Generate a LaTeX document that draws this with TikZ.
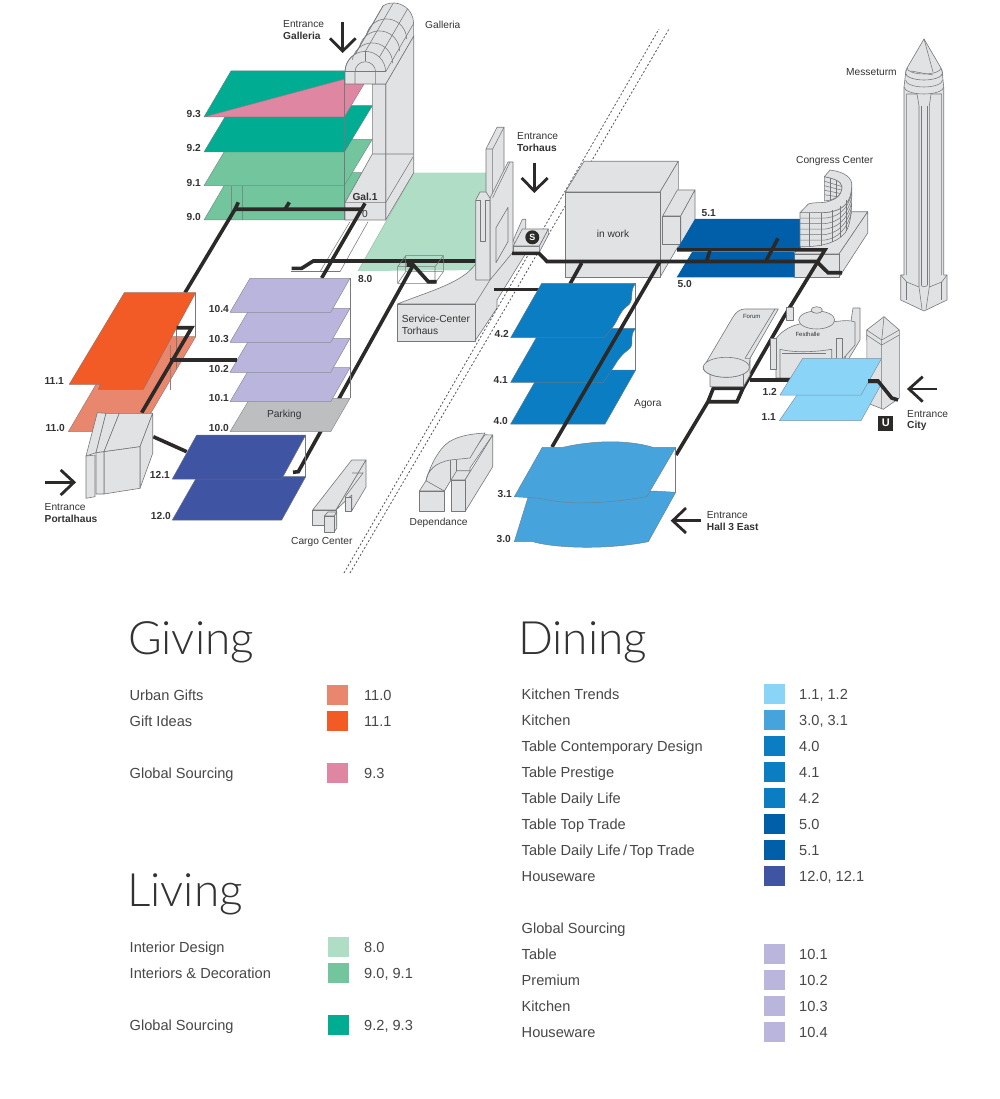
\documentclass[tikz,border=0pt]{standalone}
\usepackage{fontspec}
\setmainfont{Liberation Sans}
\newfontfamily\hdrfont{Lato Light}
\definecolor{gb}{HTML}{E1E2E4}
\definecolor{ln}{HTML}{77787B}
\definecolor{tx}{HTML}{333333}
\definecolor{blk}{HTML}{2B2A29}
\definecolor{ugift}{HTML}{E8866E}
\definecolor{gift}{HTML}{F25A26}
\definecolor{pnk}{HTML}{DE86A2}
\definecolor{lgreen}{HTML}{B0DDC6}
\definecolor{mgreen}{HTML}{72C59C}
\definecolor{dgreen}{HTML}{00AD93}
\definecolor{sky}{HTML}{8AD4F7}
\definecolor{kitch}{HTML}{46A3DC}
\definecolor{agora}{HTML}{0B7EC3}
\definecolor{navy}{HTML}{005FA8}
\definecolor{indg}{HTML}{3F54A3}
\definecolor{lav}{HTML}{BAB5DC}
\definecolor{park}{HTML}{BCBEC0}
\tikzset{
 face/.style={fill=gb,draw=ln,line width=.6pt,line join=round},
 wire/.style={draw=ln,line width=.55pt},
 floorp/.style={fill=#1,draw=ln!70!#1,line width=.5pt,line join=round},
 route/.style={draw=blk,line width=3.6pt,line join=miter},
 arrowline/.style={draw=blk,line width=2.8pt},
 rail/.style={draw=ln!70!black,line width=.8pt,dash pattern=on 2pt off 2pt},
 lab/.style={font=\fontsize{10.2}{12}\selectfont,text=tx,inner sep=0pt,anchor=west},
 blab/.style={lab,font=\fontsize{10.2}{12}\selectfont\bfseries},
 num/.style={font=\fontsize{10.2}{12}\selectfont\bfseries,text=tx,inner sep=0pt,anchor=east},
 tiny/.style={font=\fontsize{6}{7}\selectfont,text=tx,inner sep=0pt},
 hdr/.style={font=\fontsize{46}{50}\selectfont\hdrfont,text=tx,inner sep=0pt,anchor=base west},
 leg/.style={font=\fontsize{14.6}{17}\selectfont,text=tx!90!white,inner sep=0pt,anchor=base west},
 swatch/.style={fill=#1,draw=none,minimum width=21pt,minimum height=20pt,inner sep=0pt,anchor=west}
}
\begin{document}
\begin{tikzpicture}[x=1pt,y=-1pt]
\useasboundingbox (0,0) rectangle (1000,1099);
\fill[white] (0,0) rectangle (1000,1099);
% floor 8.0
\fill[lgreen] (358,271) -- (413.7,172.7) -- (490,172.7) -- (490,270) -- cycle;
\draw[wire,draw=lgreen!70!ln] (358,271) -- (413.7,172.7);
% thin outlines beside floor 8.0
\draw[wire] (320,271.7) -- (350,221.7) (340,271.7) -- (368,221.7) (326,271.7) -- (355,221.7);
\draw[wire] (291,271.7) -- (340,271.7);
% floors 9
\filldraw[floorp=mgreen] (204,220) -- (231.7,172.7) -- (362,172.7) -- (344.3,220) -- cycle;
\draw[wire,draw=ln!70!mgreen] (231.7,186) -- (231.7,220) (242.7,186) -- (242.7,220);
\filldraw[floorp=mgreen] (204,185.7) -- (231.7,139.3) -- (372.3,139.3) -- (344.3,185.7) -- cycle;
\filldraw[floorp=dgreen] (204,152) -- (231.7,105.7) -- (372.3,105.7) -- (344.3,152) -- cycle;
\filldraw[floorp=dgreen] (204,117) -- (231,71) -- (350,71) -- (350,79) -- cycle;
\filldraw[floorp=pnk] (204,117) -- (345,79) -- (364,84) -- (344.3,117) -- cycle;
% Galleria pillar
\draw[face] (385.7,84) -- (413.7,36) -- (413.7,172.7) -- (385.7,220) -- cycle;
\draw[face] (372.3,84) -- (385.7,84) -- (385.7,220) -- (345,220) -- (345,202.7) -- (372.3,154) -- cycle;
\draw[wire] (345,202.7) -- (385.7,202.7) -- (413,157) (372.3,154) -- (413.7,154);
\draw[wire] (344.7,79) -- (344.7,220);
% barrel vault
\draw[face] (345,71.7) arc[start angle=180,end angle=240,radius=20.3] -- (383.15,5.7)
  arc[start angle=240,end angle=360,radius=20.3] -- (413.7,36) -- (385.7,84) -- (345,84) -- cycle;
\foreach \i in {1,2,3}{
  \draw[wire,shift={(\i*7,-\i*12)}] (345.3,71.7) arc[start angle=190,end angle=360,radius=20.3];
}
\draw[wire] (345,71.7) arc[start angle=180,end angle=360,radius=20.3];
\draw[wire] (385.7,71.7) -- (413.7,23.3);
\draw[wire] (365.3,51.4) -- (393.3,3) (356,53) -- (383.15,5.7) (379.5,57) -- (407.5,9);
\draw[wire] (345,71.7) -- (385.7,71.7);
\draw[wire] (355,84) -- (355,72) arc[start angle=180,end angle=360,radius=10.3] -- (375.6,84);
\draw[wire] (365.3,51.4) -- (365.3,61.4);
% routes of the 9 block
\draw[route] (238.3,202.3) -- (235,209.3) -- (361,209.3);
\draw[route] (289.3,202.3) -- (285,209.3);
\draw[route] (235,209.3) -- (185,292.7);
\draw[route] (365,203.3) -- (321.7,278);
\draw[route] (291.7,268.3) -- (301.7,268.3) -- (313.3,261) -- (476,261);
\node[blab] (gal1) at (352.3,196.7) {Gal.1};
\node[lab] (gal0) at (362,214) {0};
% service centre
\draw[face] (397.3,304) .. controls (430,291) and (462,283) .. (475.7,264) -- (513,250) -- (526,253) -- (497,300) -- (497,308) -- (475,341) -- (475,304) -- cycle;
\draw[face] (397.3,304) rectangle (475,341);
\draw[wire] (475,304) -- (490,280);
% Torhaus
\draw[face] (486,149) -- (497,127.3) -- (504,127.3) -- (504,190) -- (492.7,210) -- (486,210) -- cycle;
\draw[wire] (486,149) -- (492.7,149) -- (504,127.3) (492.7,149) -- (492.7,195);
\draw[face] (490,280) -- (490,198) -- (508,162) -- (513,162) -- (513,252) -- cycle;
\draw[wire] (492.5,198) -- (510,162);
\draw[face] (475.7,200) -- (480,192) -- (486,192) -- (490,198) -- (490,280) -- (475.7,280) -- cycle;
\draw[wire] (475.7,200) -- (481,200) (485,200) -- (490,200);
\draw[face] (480.7,200) -- (480.7,241) -- (485.7,241) -- (485.7,200);
\draw[face] (496,227.7) -- (508,207.3) -- (508,241.7) -- (496,262.7) -- cycle;
% rails
\draw[rail] (344,573) -- (659,29);
\draw[rail] (350,573) -- (669,29);
% service box wireframe + route
\draw[wire] (397.7,266.7) -- (405.7,255.7) -- (443.3,255.7) -- (443.3,271.7) -- (435,283.3) -- (397.7,283.3) -- cycle;
\draw[wire] (397.7,266.7) -- (435,266.7) -- (443.3,255.7) (435,266.7) -- (435,283.3) (405.7,255.7) -- (405.7,271.7) -- (443.3,271.7) (397.7,283.3) -- (405.7,271.7);
\draw[route] (406.7,265) -- (413.3,265) -- (428.3,281.7) -- (436.7,281.7);
\draw[route] (413.3,265) -- (298.3,471.7) -- (293,472.3);
% S station
\draw[face] (513.3,240) -- (522.3,219.3) -- (525.7,219.3) -- (525.7,229) -- (515,245) -- cycle;
\draw[face] (513.3,246) -- (539.3,246) -- (539.3,252.3) -- (513.3,252.3) -- cycle;
\draw[face] (539.3,246) -- (548.3,229) -- (548.3,235) -- (539.3,252.3) -- cycle;
\draw[face] (513.3,246) -- (522.3,229) -- (548.3,229) -- (539.3,246) -- cycle;
\node[circle,fill=blk,minimum size=14pt,inner sep=0pt,text=white,font=\fontsize{9}{9}\selectfont\bfseries] (sbahn) at (532.3,237.3) {S};
% in work block
\draw[face] (565.3,192) -- (584,161.3) -- (678.3,161.3) -- (660,192) -- cycle;
\draw[face] (660,192) -- (678.3,161.3) -- (678.3,246) -- (660,277.3) -- cycle;
\draw[face] (565.3,192) rectangle (660,277.3);
\draw[face] (662.7,216) -- (677.3,190) -- (695,190) -- (680.7,216) -- cycle;
\draw[face] (680.7,216) -- (695,190) -- (695,220) -- (680.7,244) -- cycle;
\draw[face] (662.7,216) rectangle (680.7,244);
\node[font=\fontsize{10.2}{12}\selectfont,text=tx,inner sep=0pt] (inwork) at (613,233.5) {in work};
% Congress base and 5 floors
\draw[face] (794.3,254) -- (815,212) -- (867.7,211.7) -- (839,254) -- cycle;
\draw[face] (839,254) -- (867.7,211.7) -- (867.7,233) -- (839,277.3) -- cycle;
\draw[face] (794.3,254) rectangle (839,277.3);
\fill[navy] (695,219) -- (800.5,219) -- (800.5,250) -- (676.7,250) -- cycle;
\fill[navy] (692,252) -- (794.3,252) -- (794.3,277.3) -- (676.7,277.3) -- cycle;
% Congress crescent
\draw[face] (800,212.7) -- (800,246.7) .. controls (815,247) and (835,245) .. (845,233) .. controls (850,225) and (852,218) .. (851.7,186.7) .. controls (851,200) and (846,212) .. (821.7,212.7) -- cycle;
\draw[face] (824.3,176.7) -- (824.3,201) .. controls (835,200) and (842,196) .. (842,186.7) .. controls (842,181) and (832,178) .. (824.3,176.7);
\foreach \d in {4.5,9,13.5,18}{ \draw[wire] (824.3,176.7+\d) -- (842,183+\d*.8); }
\draw[wire] (830,178) -- (830,201) (836,181) -- (836,199);
\draw[face] (800,212.7) -- (808.3,204) .. controls (815,202) and (820,203) .. (825,202.3) .. controls (835,200) and (842,196) .. (842,186.7) .. controls (842,181) and (832,178) .. (824.3,176.7) -- (830,170) .. controls (845,172) and (853,178) .. (851.7,186.7) .. controls (851,200) and (846,212) .. (821.7,212.7) -- cycle;
\foreach \d in {5.5,11,16.5,22,27.5}{
  \draw[wire] (800,212.7+\d) -- (821.7,212.7+\d) .. controls (838,212.7+\d) and (848,205+\d*.8) .. (851.5,189+\d*.85);
}
\draw[wire] (809,212.7) -- (809,246.7) (821.7,212.7) -- (821.7,246) (832,210) -- (832,241.5) (840,206) -- (840,237) (846,200) -- (846,231);
% routes centre
\draw[route] (512,253.3) -- (539,253.3) -- (547,261.5) -- (816.7,261.5) -- (828,272.7) -- (842,272.7);
\draw[route] (677,249.8) -- (825,249.8) -- (783.3,318) -- (743,388.3) -- (713.3,388.3) -- (708,401.7) -- (737,401.7) -- (743,388.3);
\draw[route] (708,401.7) -- (676,455);
\draw[route] (710,250) -- (706.7,261);
\draw[route] (778,238.3) -- (766,261);
\draw[route] (581.7,263) -- (570,284);
\draw[route] (494,289.5) -- (540,289.5);
% Messeturm
\draw[face] (904,87) -- (904,275) -- (900.7,275) -- (900.7,300) -- (924,311) -- (947,300) -- (947,275) -- (943.7,275) -- (943.7,87) -- (942,70) -- (906,70) -- cycle;
\fill[gb,draw=ln,line width=.6pt] (905.5,73) arc[start angle=180,end angle=0,x radius=18.5,y radius=7] -- (941,68) -- (924,39) -- (907,68) -- cycle;
\draw[wire] (907,68) arc[start angle=180,end angle=0,x radius=17,y radius=6];
\draw[wire] (924,39) -- (933,72) (911,71) -- (933,75);
\draw[wire] (905.5,80) arc[start angle=180,end angle=0,x radius=18.5,y radius=7];
\draw[wire] (906.7,275) -- (906.7,94) -- (917,94) -- (919,106) -- (919,287);
\draw[wire] (941.7,275) -- (941.7,94) -- (931,94) -- (929.3,106) -- (929.3,287);
\draw[wire] (921,106) -- (921,285) (927.5,106) -- (927.5,285);
\draw[wire] (921,285) arc[start angle=180,end angle=0,x radius=3.2,y radius=1.6];
\draw[wire] (900.7,275) -- (906.7,282) -- (919,287) -- (922,309) (947,275) -- (941.7,282) -- (929.3,287) -- (926,309);
\draw[wire] (906.7,282) -- (906.7,300) (941.7,282) -- (941.7,300);
\draw[wire] (904,87) arc[start angle=180,end angle=0,x radius=19.85,y radius=7];
% Forum and Festhalle
\draw[face] (853,308) -- (860,308) -- (860,340) -- (848,360) -- (845,360) -- cycle;
\draw[face] (786.7,307) rectangle (793.3,320);
\draw[face] (775,340) .. controls (785,326) and (800,322) .. (815,323) .. controls (830,324) and (845,318) .. (855,322) -- (855,345) -- (842,360) -- (842,378) -- (776,378) -- (776,345) -- cycle;
\draw[face] (780,349.3) .. controls (795,353) and (815,352) .. (831.7,349.3) -- (831.7,378) -- (780,378) -- cycle;
\draw[wire] (782,353) -- (826,353);
\draw[face] (798.7,320) arc[start angle=180,end angle=360,x radius=18,y radius=9] arc[start angle=0,end angle=180,x radius=18,y radius=9];
\draw[face] (811,310) arc[start angle=180,end angle=360,x radius=5.7,y radius=3.3] arc[start angle=0,end angle=180,x radius=5.7,y radius=3.3];
\draw[face] (770.7,338.3) rectangle (776.7,369.3);
\draw[face] (836,338) rectangle (842.7,360);
\node[tiny] (festhalle) at (807.7,334.5) {Festhalle};
\draw[face] (710,367) -- (710,386.7) -- (743.3,386.7) -- (750,375) -- (750,358) -- cycle;
\draw[wire] (743.3,386.7) -- (743.3,370);
\draw[face] (703.3,367.3) -- (733,317) .. controls (736,312) and (740,309) .. (745,309) -- (775,309) -- (750,358.3) -- (749,367.3) arc[start angle=0,end angle=180,x radius=23,y radius=10];
\draw[face] (703.3,367.3) arc[start angle=180,end angle=360,x radius=23,y radius=10] arc[start angle=0,end angle=180,x radius=23,y radius=10];
\draw[face] (775,309) -- (778.3,309) -- (750,358.3) -- (745,358.3) -- cycle;
\node[tiny] (forum) at (751.7,316.7) {Forum};
% City tower
\draw[face] (866.7,330) -- (884,316.7) -- (899.3,330) -- (899.3,398) -- (883.3,409.3) -- (867.3,403) -- cycle;
\draw[wire] (866.7,330) -- (881.7,340) -- (899.3,330) (866.7,335) -- (881.7,345) -- (899.3,335);
\draw[wire] (884,316.7) -- (881.7,340) -- (881.7,409);
% routes city
\draw[route] (750,380) -- (790,380);
% floors 1
\filldraw[floorp=sky] (779.3,420.7) -- (805,383.3) -- (881.7,383.3) -- (861,420.7) -- cycle;
\filldraw[floorp=sky] (780,395) -- (802.7,358.3) -- (881.7,358.3) -- (861,395) -- cycle;
\draw[route] (868,381) -- (878,381) -- (891.7,398) -- (898,400);
% U
\node[fill=blk,text=white,minimum size=15pt,inner sep=0pt,font=\fontsize{11}{11}\selectfont\bfseries] (ubahn) at (885.8,423) {U};
% floors 4
\draw[wire] (635.7,283.3) -- (635.7,370);
\filldraw[floorp=agora] (510.7,424) -- (541.7,370) -- (635.7,370) -- (605,424) -- cycle;
\filldraw[floorp=agora] (510.7,382.3) -- (541.7,328.3) -- (635.7,328.3) .. controls (628,336) and (636,345) .. (628,350) .. controls (620,356) and (618,360) .. (611.7,370) -- (603.3,382.3) -- cycle;
\filldraw[floorp=agora] (510.7,337.7) -- (541.7,283.3) -- (635.7,283.3) .. controls (628,292) and (636,301) .. (626,307) .. controls (619,313) and (618,320) .. (613,326.7) -- (604,337.7) -- cycle;
\draw[route] (660,261.5) -- (552,447);
% floors 3
\filldraw[floorp=kitch] (514.3,541.7) -- (533,541.7) .. controls (550,547) and (600,551) .. (648.3,541.7) -- (675.7,492.3) -- (653,491) -- (530,491) -- cycle;
\draw[wire] (675.7,447.3) -- (675.7,492.3);
\filldraw[floorp=kitch] (514.3,496.7) -- (542.3,447.3) -- (563,447.3) .. controls (590,441) and (625,439) .. (653,447.3) -- (675.7,447.3) -- (646.7,496.7) .. controls (610,503) and (570,506) .. (540,498.3) -- cycle;
% floors 10
\draw[wire] (350,278.3) -- (350,398.3);
\filldraw[floorp=park] (230,431.7) -- (250,398.3) -- (350,398.3) -- (330.7,431.7) -- cycle;
\foreach \b in {401.7,372.3,342.3,312.3}{
  \filldraw[floorp=lav] (230,\b) -- (250,\b-34) -- (350,\b-34) -- (330.7,\b) -- cycle;
}
\node[font=\fontsize{10.2}{12}\selectfont,text=tx,inner sep=0pt] (parking) at (284.3,415) {Parking};
% floors 11
\draw[wire] (195.7,292.7) -- (195.7,336.7);
\filldraw[floorp=ugift] (68.3,431.7) -- (124,336.7) -- (195.7,336.7) -- (140,431.7) -- cycle;
\draw[wire,draw=ln!70!ugift] (170,345) -- (170,390) (176.7,345) -- (176.7,370);
\filldraw[floorp=gift] (69.3,384.3) -- (124.3,292.7) -- (195.7,292.7) -- (143.3,389.3) -- (98.3,389.3) -- (100.7,384.3) -- cycle;
\draw[wire] (176.7,327) -- (176.7,367);
\draw[route] (176.7,327.7) -- (191.7,327.7) -- (141.7,412.7);
\draw[route] (170,360) -- (237.3,360);
\draw[route] (153.3,436.7) -- (186.7,451.7);
% Portalhaus
\draw[face] (86,456) -- (97.3,412.7) -- (106,413.3) -- (96,452.7) -- cycle;
\draw[face] (96,452.7) -- (106,413.3) -- (119.3,413.3) -- (104,451.7) -- cycle;
\draw[face] (104,451.7) -- (119.3,413.3) -- (152.7,413.3) -- (140,446.7) -- cycle;
\draw[face] (140,446.7) -- (152.7,413.3) -- (152.7,453.3) -- (140,488.3) -- cycle;
\draw[face] (104,451.7) -- (140,446.7) -- (140,488.3) -- (104,494) -- cycle;
\draw[face] (96,452.7) -- (104,451.7) -- (104,494) -- (96,494) -- cycle;
\draw[face] (86,456) -- (95,455) -- (95,496.7) -- (86,498.3) -- cycle;
% floors 12
\draw[wire] (305.7,435) -- (305.7,476.7);
\filldraw[floorp=indg] (172.3,520) -- (197,476.7) -- (305.7,476.7) -- (281.7,520) -- cycle;
\filldraw[floorp=indg] (172.3,479) -- (196.7,435) -- (305.7,435) -- (281.7,479) -- cycle;
% Cargo Center
\draw[face] (312.7,510) -- (351.7,460) -- (366,460) -- (336,510) -- cycle;
\draw[face] (336,510) -- (366,460) -- (366,487) -- (351.7,511) -- (351.7,495) -- cycle;
\draw[face] (312.7,510) rectangle (336,525);
\draw[face] (345,497) rectangle (351.7,511.7);
\draw[face] (324.3,516) -- (328,512) -- (336.7,512) -- (334.3,516) -- cycle;
\draw[face] (334.3,516) -- (336.7,512) -- (336.7,528) -- (334.3,532) -- cycle;
\draw[face] (324.3,516) rectangle (334.3,532);
\draw[wire] (352,473) -- (363,473) -- (345,497);
% Dependance
\draw[face] (419.3,491) -- (426,480.7) -- (450,480.7) -- (444.3,491) -- cycle;
\draw[face] (419.3,491) rectangle (444.3,511.7);
\draw[face] (426,480.7) .. controls (428,470) and (432,468) .. (440,462) .. controls (445,458) and (450,456) .. (470,455.7) -- (485,434.7) -- (492.7,435) -- (470,468) -- (470,480) -- (451,480) -- (444.3,491) -- cycle;
\draw[face] (426,480.7) .. controls (428,470) and (435,463) .. (450,460) -- (470,458) -- (485,433) .. controls (470,434) and (455,436) .. (445,445) .. controls (435,455) and (429,470) .. (426,480.7) -- cycle;
\draw[face] (451,480) -- (456.7,470.7) -- (470.7,470.7) -- (465,480) -- cycle;
\draw[face] (465,480) -- (492.7,435) -- (492.7,466.7) -- (465,511.7) -- cycle;
\draw[face] (451,480) rectangle (465,511.7);
\draw[wire] (450.5,460) -- (450.5,480) (456.7,460) -- (456.7,470.7);
% arrows
\draw[arrowline] (342.7,22) -- (342.7,50);
\draw[arrowline] (330,38.3) -- (342.7,51) -- (355.7,38.3);
\draw[arrowline] (534.3,162.7) -- (534.3,190);
\draw[arrowline] (521.7,178) -- (534.3,191) -- (547.7,178);
\draw[arrowline] (45,482.3) -- (73,482.3);
\draw[arrowline] (60.7,470) -- (74,482.3) -- (60.7,495);
\draw[arrowline] (701,520.7) -- (674,520.7);
\draw[arrowline] (686,508) -- (672.7,520.7) -- (686,533);
\draw[arrowline] (937.3,389) -- (910,389);
\draw[arrowline] (922.7,376.7) -- (909,389) -- (922.7,401.7);
% labels
\node[lab] (l1) at (283,24.5) {Entrance};
\node[blab] (l2) at (283,36) {Galleria};
\node[lab] (l3) at (425,24.5) {Galleria};
\node[lab] (l4) at (517,136.5) {Entrance};
\node[blab] (l5) at (517,148) {Torhaus};
\node[lab] (l6) at (846,72) {Messeturm};
\node[lab] (l7) at (796,160.7) {Congress Center};
\node[lab] (l8) at (401.7,319) {Service-Center};
\node[lab] (l9) at (401.7,330.5) {Torhaus};
\node[lab] (l10) at (44.5,507.5) {Entrance};
\node[blab] (l11) at (44.5,519) {Portalhaus};
\node[lab] (l12) at (291,542) {Cargo Center};
\node[lab] (l13) at (409.5,522.5) {Dependance};
\node[lab] (l14) at (634,403.7) {Agora};
\node[lab] (l15) at (706.7,515) {Entrance};
\node[blab] (l16) at (706.7,526.5) {Hall 3 East};
\node[lab] (l17) at (907,414) {Entrance};
\node[blab] (l18) at (907,425.5) {City};
\node[num] (n93) at (201,114) {9.3};
\node[num] (n92) at (201,148) {9.2};
\node[num] (n91) at (201,183) {9.1};
\node[num] (n90) at (201,217) {9.0};
\node[num] (n80) at (372.5,279) {8.0};
\node[num] (n111) at (64,381) {11.1};
\node[num] (n110) at (65,428) {11.0};
\node[num] (n104) at (229,309) {10.4};
\node[num] (n103) at (229,339) {10.3};
\node[num] (n102) at (229,369) {10.2};
\node[num] (n101) at (229,398) {10.1};
\node[num] (n100) at (229,427.5) {10.0};
\node[num] (n121) at (170,475) {12.1};
\node[num] (n120) at (171,516) {12.0};
\node[num] (n51) at (716,213) {5.1};
\node[num] (n50) at (692,284) {5.0};
\node[num] (n42) at (509,334) {4.2};
\node[num] (n41) at (508,379.5) {4.1};
\node[num] (n40) at (508,421) {4.0};
\node[num] (n31) at (512,494) {3.1};
\node[num] (n30) at (511,539) {3.0};
\node[num] (n12) at (777,392) {1.2};
\node[num] (n11) at (776,417) {1.1};
% legend
\node[hdr] (hg) at (128,654) {Giving};
\node[hdr] (hl) at (127,906) {Living};
\node[hdr] (hd) at (518,654) {Dining};
\foreach \t/\c/\v/\y in {Urban Gifts/ugift/11.0/695,Gift Ideas/gift/11.1/721,Global Sourcing/pnk/9.3/773}{
  \node[leg] at (129.5,\y+5) {\t};
  \node[swatch=\c] at (327,\y) {};
  \node[leg] at (364,\y+5) {\v};
}
\foreach \t/\c/\v/\y in {Interior Design/lgreen/8.0/947,Interiors \& Decoration/mgreen/{9.0, 9.1}/973,Global Sourcing/dgreen/{9.2, 9.3}/1025}{
  \node[leg] at (129.5,\y+5) {\t};
  \node[swatch=\c] at (328,\y) {};
  \node[leg] at (364,\y+5) {\v};
}
\foreach \t/\c/\v/\y in {Kitchen Trends/sky/{1.1, 1.2}/694,Kitchen/kitch/{3.0, 3.1}/720,Table Contemporary Design/agora/4.0/746,Table Prestige/agora/4.1/772,Table Daily Life/agora/4.2/798,Table Top Trade/navy/5.0/824,{Table Daily Life\,/\,Top Trade}/navy/5.1/850,Houseware/indg/{12.0, 12.1}/876,Table/lav/10.1/954,Premium/lav/10.2/980,Kitchen/lav/10.3/1006,Houseware/lav/10.4/1032}{
  \node[leg] at (521.5,\y+5) {\t};
  \node[swatch=\c] at (764,\y) {};
  \node[leg] at (799,\y+5) {\v};
}
\node[leg] (gs) at (521.5,933) {Global Sourcing};
\end{tikzpicture}
\end{document}
